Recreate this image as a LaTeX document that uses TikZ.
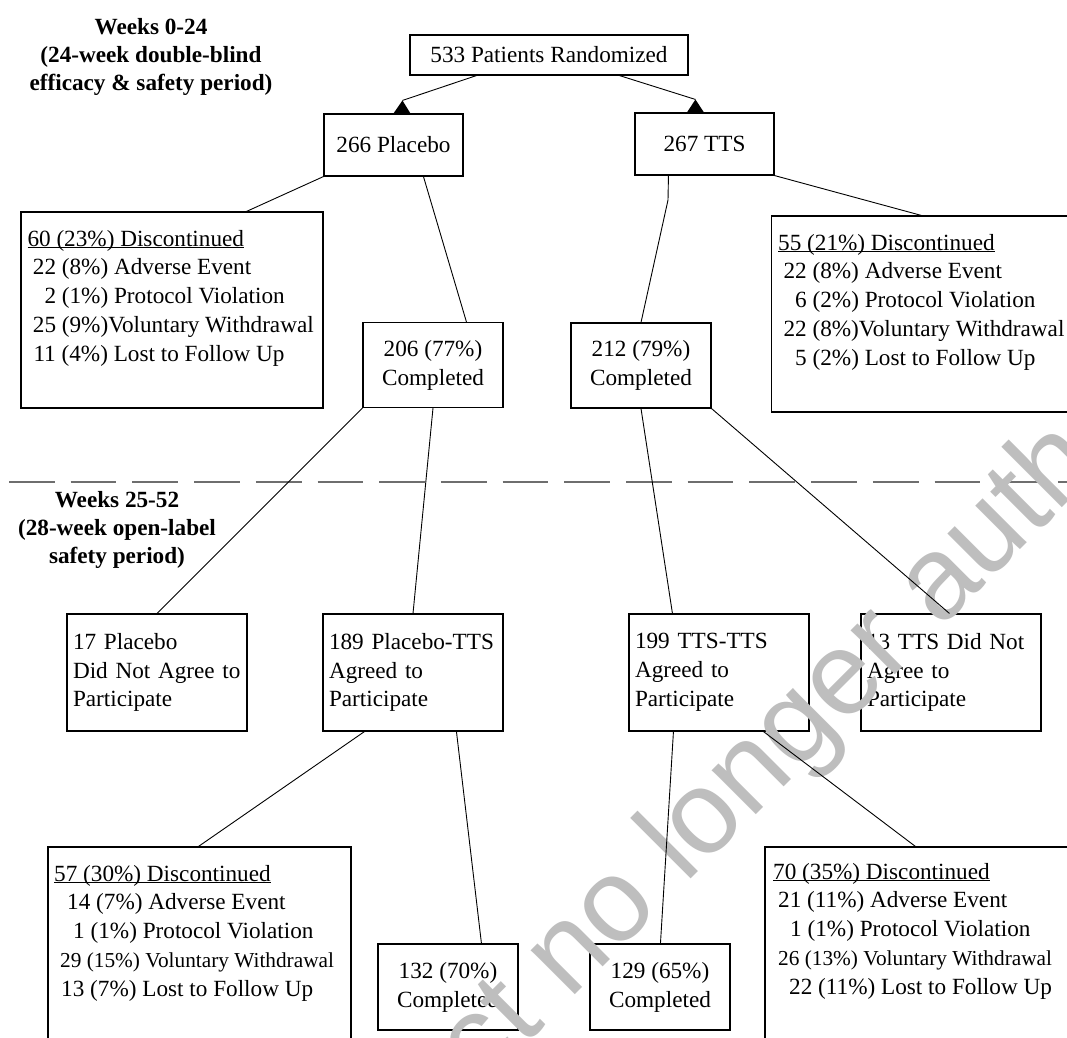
\documentclass[tikz,border=0pt]{standalone}
\usepackage{fontspec}
\setmainfont{Liberation Serif}
\newfontfamily\wmfont{Liberation Sans}
\usetikzlibrary{arrows.meta}
\definecolor{wmgray}{RGB}{190,190,190}
\definecolor{dashgray}{RGB}{110,110,110}
\newcommand{\ulx}[1]{\setbox0\hbox{#1}\rlap{\rule[-2.4pt]{\wd0}{1.1pt}}\box0}
\newcommand{\smallvw}{\fontsize{21.3}{28.9}\selectfont}
\begin{document}
\begin{tikzpicture}[x=1pt,y=-1pt,
  every node/.style={inner sep=0pt},
  box/.style={draw, line width=1.1pt},
  conn/.style={line width=0.9pt},
  fnt/.style={font=\fontsize{23.2}{28.9}\selectfont},
  hdr/.style={font=\fontsize{23.2}{28.2}\selectfont\bfseries, align=center},
  lbox/.style={box, fnt, align=left, text width=168pt, inner xsep=6pt, minimum height=117pt},
  cbox/.style={box, fnt, align=center, minimum width=140pt, minimum height=85pt},
  dtext/.style={fnt, align=left, anchor=north west}
]
\useasboundingbox (0,0) rectangle (1067,1037);
\fill[white] (0,0) rectangle (1067,1037);

% period headers
\node[hdr] (h1) at (151,57) {Weeks 0-24\\(24-week double-blind\\efficacy \& safety period)};
\node[hdr] (h2) at (117,530) {Weeks 25-52\\(28-week open-label\\safety period)};

% dashed separator
\coordinate (dl) at (9,482);
\coordinate (dr) at (1067,482);
\draw[dashgray, line width=1.3pt, dash pattern=on 45.7pt off 16pt] (dl) -- (dr);

% boxes, upper part
\node[box, fnt, minimum width=278pt, minimum height=40pt] (root) at (549,55) {533 Patients Randomized};
\node[box, fnt, minimum width=139pt, minimum height=62pt] (plac) at (393.5,145) {266 Placebo};
\node[box, fnt, minimum width=139pt, minimum height=62pt] (tts) at (704.5,144) {267 TTS};
\node[box, minimum width=302pt, minimum height=196pt] (d1) at (172,310) {};
\node[box, minimum width=308.5pt, minimum height=196pt] (d2) at (925.75,314) {};
\node[cbox] (c1) at (433,365) {206 (77\%)\\Completed};
\node[cbox] (c2) at (641,365.5) {212 (79\%)\\Completed};

\node[dtext] (d1t) at (27.3,229.7) {\ulx{60 (23\%) Discontinued}\\
\hspace*{5.4pt}22 (8\%) Adverse Event\\
\hspace*{17pt}2 (1\%) Protocol Violation\\
\hspace*{5.4pt}25 (9\%)Voluntary Withdrawal\\
\hspace*{6pt}11 (4\%) Lost to Follow Up};
\node[dtext] (d2t) at (778,233.7) {\ulx{55 (21\%) Discontinued}\\
\hspace*{5.4pt}22 (8\%) Adverse Event\\
\hspace*{17pt}6 (2\%) Protocol Violation\\
\hspace*{5.4pt}22 (8\%)Voluntary Withdrawal\\
\hspace*{17pt}5 (2\%) Lost to Follow Up};

% boxes, lower part
\node[lbox] (np1) at (157,672.5) {17 Placebo\\Did Not Agree to\\Participate};
\node[lbox] (ag1) at (413,672.5) {189 Placebo-TTS\\Agreed to\\Participate};
\node[lbox] (ag2) at (719,672.5) {199 TTS-TTS\\Agreed to\\Participate};
\node[lbox] (np2) at (951,672.5) {13 TTS Did Not\\Agree to\\Participate};
\node[box, minimum width=303pt, minimum height=203pt] (d3) at (199.5,948.5) {};
\node[box, minimum width=315pt, minimum height=203pt] (d4) at (922.5,948.5) {};
\node[cbox, minimum height=86pt] (c3) at (448,987) {132 (70\%)\\Completed};
\node[cbox, minimum height=86pt] (c4) at (660,987) {129 (65\%)\\Completed};

\node[dtext] (d3t) at (54,864.7) {\ulx{57 (30\%) Discontinued}\\
\hspace*{13pt}14 (7\%) Adverse Event\\
\hspace*{19pt}1 (1\%) Protocol Violation\\
\hspace*{6pt}{\smallvw 29 (15\%) Voluntary Withdrawal}\\
\hspace*{7pt}13 (7\%) Lost to Follow Up};
\node[dtext] (d4t) at (773,862.7) {\ulx{70 (35\%) Discontinued}\\
\hspace*{5pt}21 (11\%) Adverse Event\\
\hspace*{17pt}1 (1\%) Protocol Violation\\
\hspace*{5pt}{\smallvw 26 (13\%) Voluntary Withdrawal}\\
\hspace*{16pt}22 (11\%) Lost to Follow Up};

% watermark (over the texts, under the connectors)
\begin{scope}
\clip (0,0) rectangle (1067,1037);
\node[rotate=45, anchor=base west, text=wmgray, font=\wmfont\fontsize{118}{118}\selectfont] (wm) at (-107.6,1678) {Medicinal product no longer authorised};
\end{scope}

% arrow heads (drawn as in the source: triangles sitting on the box tops)
\coordinate (t1) at ([xshift=79pt,yshift=13pt]plac.north west);
\coordinate (t2) at ([xshift=61pt,yshift=13pt]tts.north west);
\fill (t1) -- ([xshift=70pt]plac.north west) -- ([xshift=87pt]plac.north west) -- cycle;
\fill (t2) -- ([xshift=52.5pt]tts.north west) -- ([xshift=69.5pt]tts.north west) -- cycle;
\draw[conn] ([xshift=67pt]root.south west) -- (t1);
\draw[conn] ([xshift=210pt]root.south west) -- (t2);

% connectors
\coordinate (k1) at (668,200);
\draw[conn] (plac.south west) -- ([xshift=226pt]d1.north west);
\draw[conn] ([xshift=100pt]plac.south west) -- ([xshift=104pt]c1.north west);
\draw[conn] (tts.south east) -- ([xshift=150.5pt]d2.north west);
\draw[conn] ([xshift=34pt]tts.south west) -- (k1) -- (c2.north);
\draw[conn] (c1.south west) -- (np1.north);
\draw[conn] (c1.south) -- (ag1.north);
\draw[conn] (c2.south) -- ([xshift=44pt]ag2.north west);
\draw[conn] (c2.south east) -- ([xshift=89pt]np2.north west);
\draw[conn] ([xshift=42pt]ag1.south west) -- ([xshift=151pt]d3.north west);
\draw[conn] ([xshift=134pt]ag1.south west) -- ([xshift=104pt]c3.north west);
\draw[conn] ([xshift=45pt]ag2.south west) -- ([xshift=71pt]c4.north west);
\draw[conn] ([xshift=135pt]ag2.south west) -- ([xshift=151pt]d4.north west);
\end{tikzpicture}
\end{document}
